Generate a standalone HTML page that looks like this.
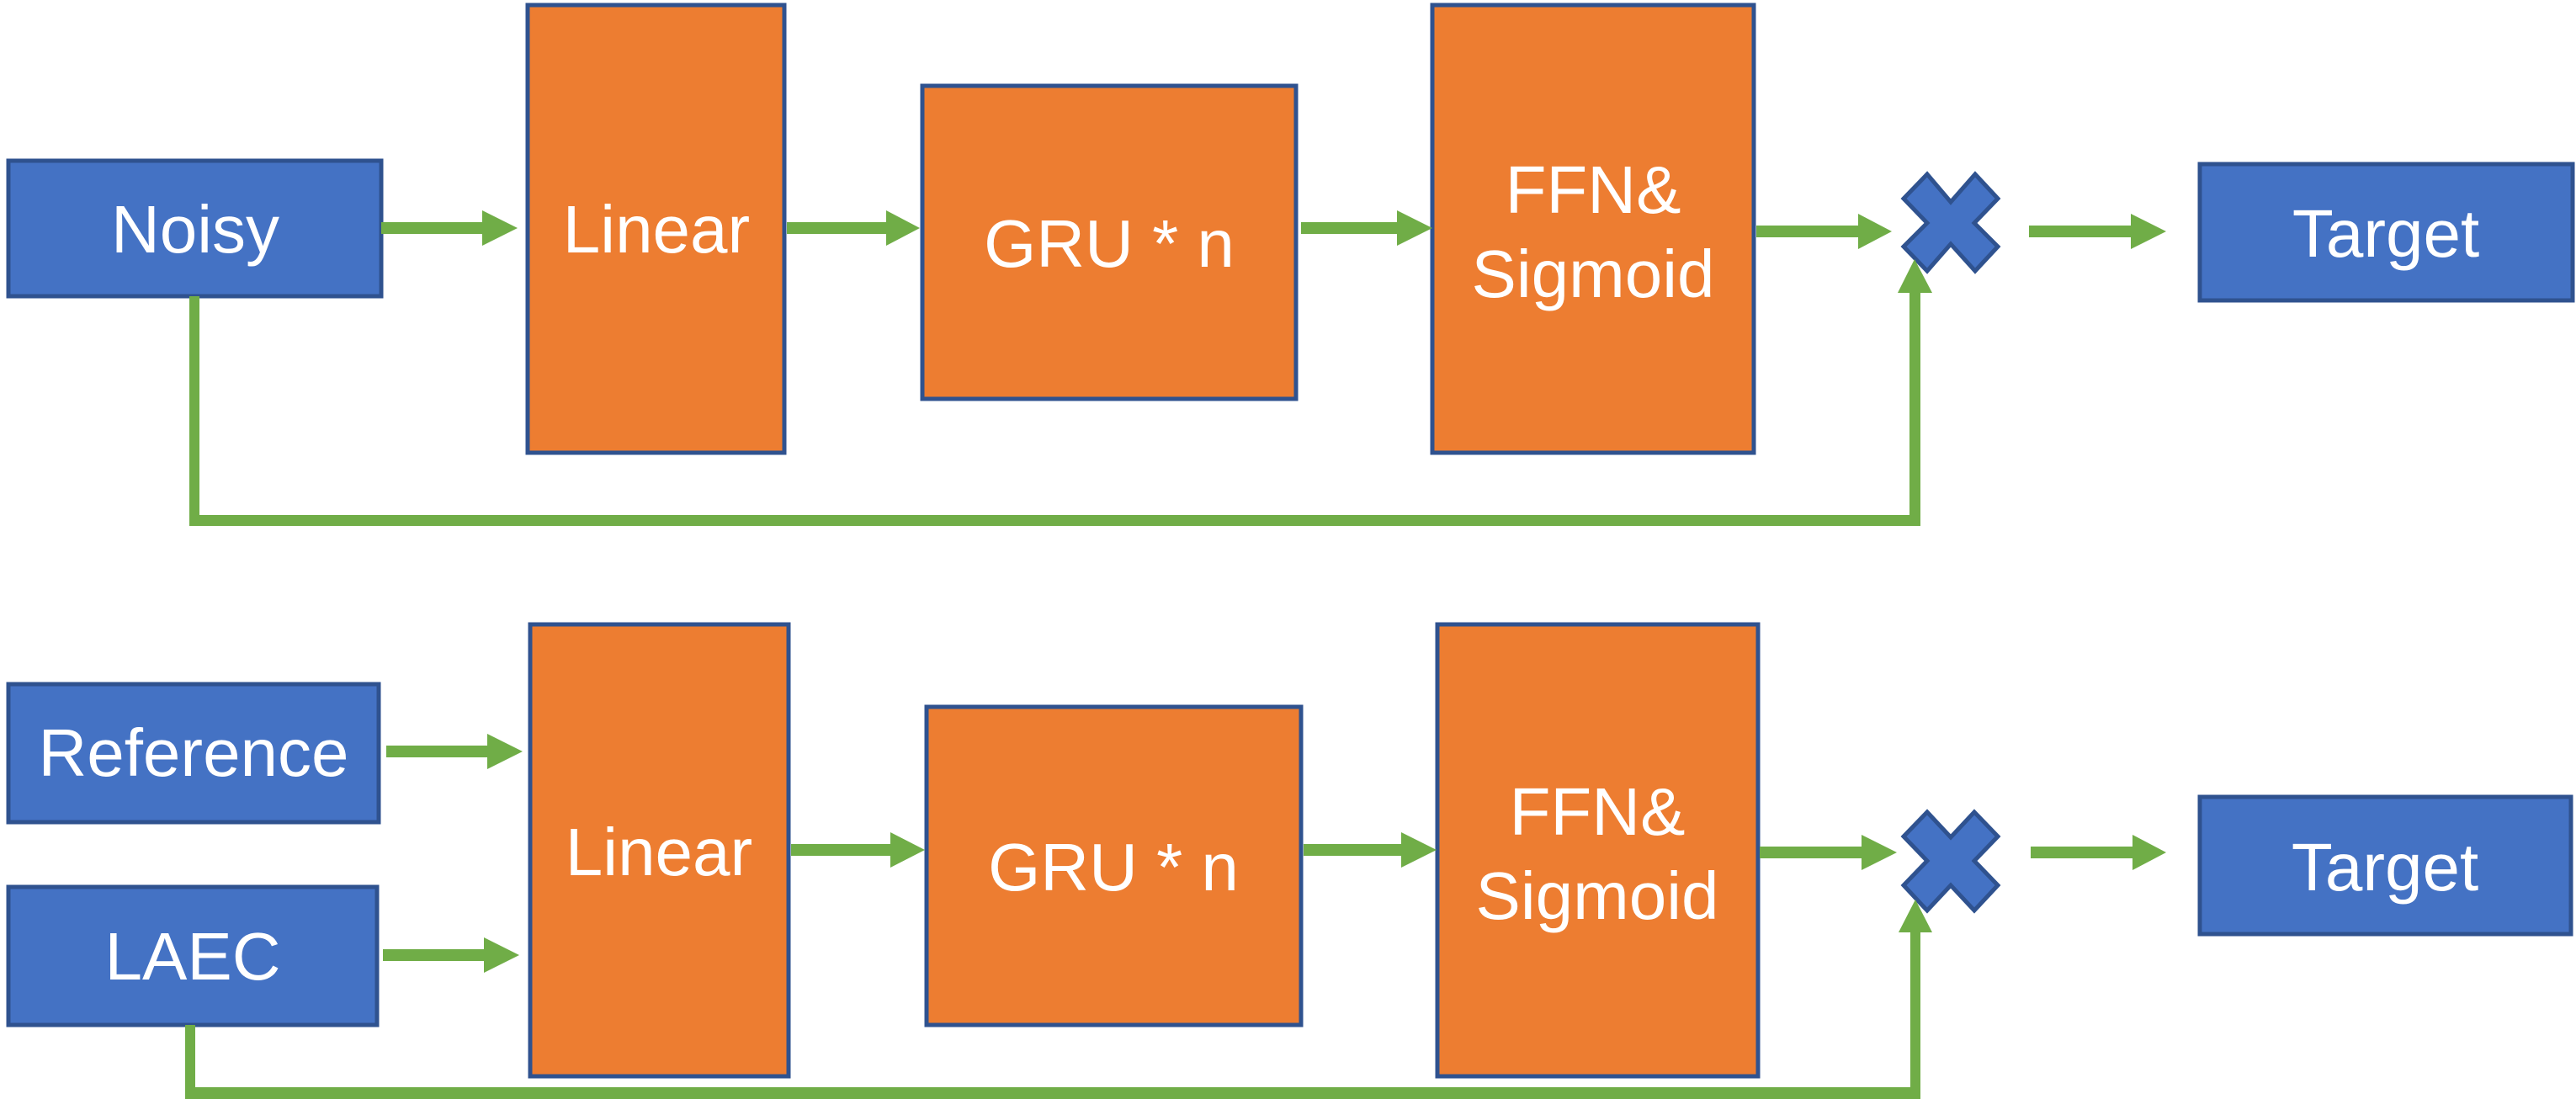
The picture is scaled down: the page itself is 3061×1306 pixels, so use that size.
<!DOCTYPE html>
<html><head><meta charset="utf-8"><style>
html,body{margin:0;padding:0;background:#fff}
svg{display:block}
text{font-family:"Liberation Sans",sans-serif;fill:#fff;font-size:80px;text-anchor:middle}
</style></head><body>
<svg width="3061" height="1306" viewBox="0 0 3061 1306" xmlns="http://www.w3.org/2000/svg">
<defs>
<g id="ar"><rect x="0" y="-7" width="1" height="14"/></g>
</defs>
<g stroke="#2F528F" stroke-width="5">
<!-- top -->
<rect x="10" y="191" width="443" height="161" fill="#4472C4"/>
<rect x="627" y="6" width="305" height="532" fill="#ED7D31"/>
<rect x="1096" y="102" width="444" height="372" fill="#ED7D31"/>
<rect x="1702" y="6" width="382" height="532" fill="#ED7D31"/>
<rect x="2614" y="195" width="443" height="162" fill="#4472C4"/>
<polygon fill="#4472C4" points="2290,207 2318,240 2347,207 2374,236 2346,265 2374,293 2347,322 2318,290 2290,322 2262,293 2290,265 2262,236"/>
<!-- bottom -->
<rect x="10" y="813" width="440" height="164" fill="#4472C4"/>
<rect x="10" y="1054" width="438" height="164" fill="#4472C4"/>
<rect x="630" y="742" width="307" height="537" fill="#ED7D31"/>
<rect x="1101" y="840" width="445" height="378" fill="#ED7D31"/>
<rect x="1708" y="742" width="381" height="537" fill="#ED7D31"/>
<rect x="2614" y="947" width="441" height="163" fill="#4472C4"/>
<polygon fill="#4472C4" points="2290,965 2318,995 2346,965 2374,994 2346,1023 2374,1052 2346,1082 2318,1052 2290,1082 2262,1052 2290,1023 2262,994"/>
</g>
<g fill="#70AD47">
<!-- top arrows -->
<rect x="453" y="264" width="122" height="14"/><polygon points="573,250 615,271 573,292"/>
<rect x="935" y="264" width="120" height="14"/><polygon points="1053,250 1093,271 1053,292"/>
<rect x="1546" y="264" width="116" height="14"/><polygon points="1660,250 1702,271 1660,292"/>
<rect x="2087" y="268" width="123" height="14"/><polygon points="2208,254 2248,275 2208,296"/>
<rect x="2411" y="268" width="123" height="14"/><polygon points="2532,254 2574,275 2532,296"/>
<polygon points="225,352 237,352 237,612 2269,612 2269,348 2282,348 2282,625 225,625"/>
<polygon points="2255,348 2275,308 2296,348"/>
<!-- bottom arrows -->
<rect x="459" y="886" width="122" height="14"/><polygon points="579,872 621,893 579,914"/>
<rect x="455" y="1128" width="122" height="14"/><polygon points="575,1114 617,1135 575,1156"/>
<rect x="940" y="1003" width="120" height="14"/><polygon points="1058,989 1099,1010 1058,1031"/>
<rect x="1549" y="1003" width="118" height="14"/><polygon points="1665,989 1707,1010 1665,1031"/>
<rect x="2091" y="1006" width="123" height="14"/><polygon points="2212,992 2254,1013 2212,1034"/>
<rect x="2413" y="1006" width="123" height="14"/><polygon points="2534,992 2574,1013 2534,1034"/>
<polygon points="220,1218 232,1218 232,1292 2270,1292 2270,1108 2282,1108 2282,1306 220,1306"/>
<polygon points="2256,1108 2276,1069 2296,1108"/>
</g>
<text x="232" y="300">Noisy</text>
<text x="780" y="300">Linear</text>
<text x="1318" y="317">GRU * n</text>
<text x="1893" y="253">FFN&amp;</text>
<text x="1893" y="353">Sigmoid</text>
<text x="2835" y="305">Target</text>
<text x="230" y="922">Reference</text>
<text x="229" y="1164">LAEC</text>
<text x="783" y="1040">Linear</text>
<text x="1323" y="1058">GRU * n</text>
<text x="1898" y="992">FFN&amp;</text>
<text x="1898" y="1092">Sigmoid</text>
<text x="2834" y="1058">Target</text>
</svg>
</body></html>
